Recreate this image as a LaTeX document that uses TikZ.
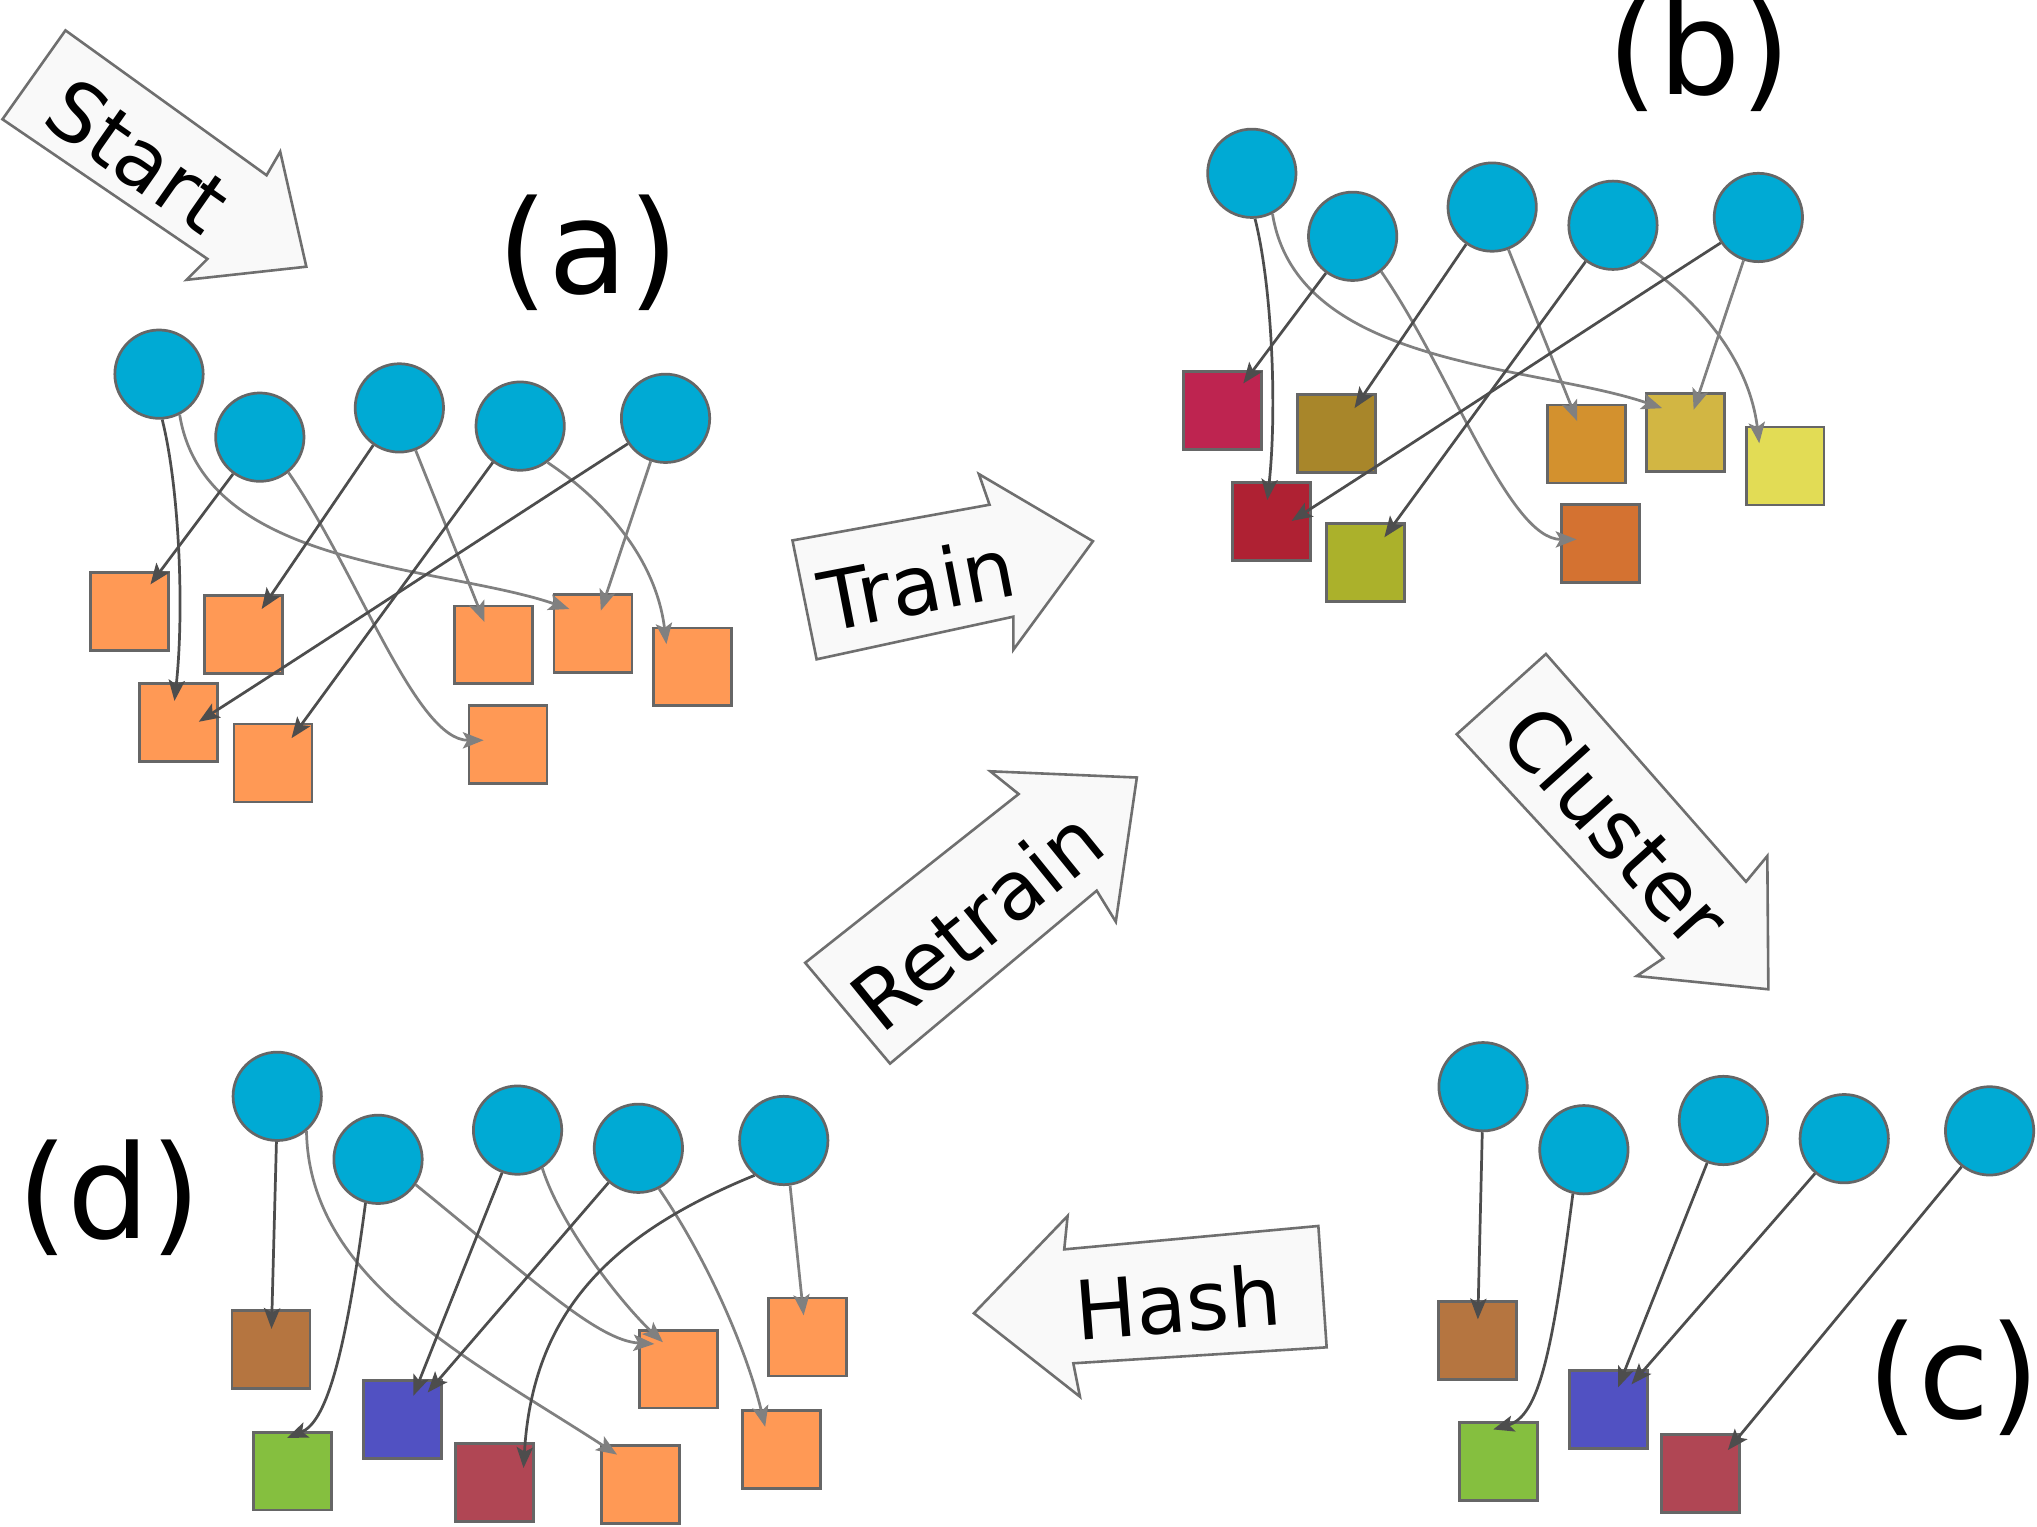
\documentclass[tikz,border=0pt]{standalone}
\usepackage{fontspec}
\setmainfont{DejaVu Sans}
\usetikzlibrary{arrows.meta,calc}
\definecolor{cir}{HTML}{00AAD4}
\definecolor{edg}{HTML}{666666}
\definecolor{org}{HTML}{FF9955}
\definecolor{dkc}{HTML}{4D4D4D}
\definecolor{ltc}{HTML}{808080}
\definecolor{bkf}{HTML}{F9F9F9}
\definecolor{bkd}{HTML}{6F6F6F}
\definecolor{bA}{HTML}{BE2450}
\definecolor{bB}{HTML}{A8862A}
\definecolor{bC}{HTML}{AF2133}
\definecolor{bD}{HTML}{ABB12B}
\definecolor{bE}{HTML}{D3912E}
\definecolor{bF}{HTML}{D2B643}
\definecolor{bG}{HTML}{E2DC55}
\definecolor{bH}{HTML}{D47231}
\definecolor{brn}{HTML}{B57540}
\definecolor{grn}{HTML}{85BF3F}
\definecolor{blu}{HTML}{5151C2}
\definecolor{mar}{HTML}{B04654}
\newcommand\panelAB[9]{%
  \node[circ] (#1c1) at (#1o) {};
  \node[circ] (#1c2) at ($(#1o)+(77.6,48.5)$) {};
  \node[circ] (#1c3) at ($(#1o)+(185,26)$) {};
  \node[circ] (#1c4) at ($(#1o)+(278,40)$) {};
  \node[circ] (#1c5) at ($(#1o)+(389.9,34)$) {};
  \node[sq,fill=#2] (#1s1) at ($(#1o)+(-22.6,182.6)$) {};
  \node[sq,fill=#3] (#1s2) at ($(#1o)+(65,200.5)$) {};
  \node[sq,fill=#4] (#1s3) at ($(#1o)+(14.9,268)$) {};
  \node[sq,fill=#5] (#1s4) at ($(#1o)+(87.7,299.4)$) {};
  \node[sq,fill=#6] (#1s5) at ($(#1o)+(257.4,208.4)$) {};
  \node[sq,fill=#7] (#1s6) at ($(#1o)+(334,199.5)$) {};
  \node[sq,fill=#8] (#1s7) at ($(#1o)+(410.5,225.3)$) {};
  \node[sq,fill=#9] (#1s8) at ($(#1o)+(268.6,285)$) {};
  \draw[dk] (#1c1.-86) .. controls ($(#1o)+(15.6,87)$) and ($(#1o)+(19.6,182)$) .. ($(#1s3)+(-3,-16.5)$);
  \draw[lt] (#1c1.-63) .. controls ($(#1o)+(35,150)$) and ($(#1o)+(217.6,147)$) .. ($(#1s6)+(-18.1,-18.7)$);
  \draw[dk] (#1c2.-126) -- ($(#1s1)+(16,-20.8)$);
  \draw[lt] (#1c2.-51) .. controls ($(#1o)+(152.6,152)$) and ($(#1o)+(197.6,282)$) .. ($(#1s8)+(-18.7,-3.2)$);
  \draw[dk] (#1c3.-125) -- ($(#1s2)+(14,-19.7)$);
  \draw[lt] (#1c3.-69) -- ($(#1s5)+(-6.9,-17.6)$);
  \draw[dk] (#1c4.-127) -- ($(#1s4)+(14.3,-19.2)$);
  \draw[lt] (#1c4.-53) .. controls ($(#1o)+(342.6,97)$) and ($(#1o)+(382.6,142)$) .. ($(#1s7)+(-19.9,-17.5)$);
  \draw[dk] (#1c5.-146) .. controls ($(#1o)+(277.6,107)$) and ($(#1o)+(117.6,212)$) .. ($(#1s3)+(15.7,-0.4)$);
  \draw[lt] (#1c5.-109) -- ($(#1s6)+(6.1,-17.5)$);
}
\begin{document}
\begin{tikzpicture}[x=1pt,y=-1pt,
  circ/.style={circle,draw=edg,fill=cir,line width=2.1pt,minimum size=68pt,inner sep=0pt},
  sq/.style={rectangle,draw=edg,line width=2.1pt,minimum size=60pt,inner sep=0pt},
  dk/.style={draw=dkc,line width=2.1pt,-{Stealth[length=16pt,width=12.5pt,inset=3.5pt]}},
  lt/.style={draw=ltc,line width=2.1pt,-{Stealth[length=16pt,width=12.5pt,inset=3.5pt]}},
  blk/.style={draw=bkd,fill=bkf,line width=2pt,line join=miter},
  arrtxt/.style={font=\fontsize{63}{63}\selectfont,inner sep=0pt},
  lbl/.style={font=\fontsize{100}{100}\selectfont,inner sep=0pt,anchor=base}]
\clip (0,0) rectangle (1568,1175);
\fill[white] (0,0) rectangle (1568,1175);
% block arrows
\draw[blk] (50.4,23.4) -- (205.2,134.9) -- (215.7,116.8) -- (235.8,205.3) -- (143.6,215.4) -- (159.7,199.3) -- (1.9,91.8) -- cycle;
\node[arrtxt,rotate=-35] (tstart) at (106.3,119.6) {Start};
\draw[blk] (610,416) -- (761.7,388.5) -- (753.5,364.9) -- (841.3,416.6) -- (780,500.2) -- (780,474.7) -- (628.6,507.5) -- cycle;
\node[arrtxt,rotate=11] (ttrain) at (706,449.1) {Train};
\draw[blk] (619.8,741.1) -- (784.1,611.2) -- (762.3,593.7) -- (875.1,598.5) -- (858.9,709.5) -- (844.2,685.6) -- (685.1,818.7) -- cycle;
\node[arrtxt,rotate=39] (tretrain) at (751.4,707.6) {Retrain};
\draw[blk] (1190,503.4) -- (1344,678.7) -- (1360.4,658.9) -- (1361.2,761.5) -- (1259.9,751.3) -- (1280.4,737.6) -- (1121.3,565.2) -- cycle;
\node[arrtxt,rotate=-48] (tcluster) at (1244.4,635.5) {Cluster};
\draw[blk] (749.7,1010.9) -- (821.8,936) -- (819.2,961.7) -- (1014.8,943.7) -- (1021.2,1037.1) -- (826.2,1049.4) -- (831.3,1075.1) -- cycle;
\node[arrtxt,rotate=4.5] (thash) at (906.5,1002) {Hash};
% labels
\node[lbl] (la) at (452.9,226.3) {(a)};
\node[lbl] (lb) at (1308.3,73.1) {(b)};
\node[lbl] (lc) at (1503.9,1092) {(c)};
\node[lbl] (ld) at (84,953) {(d)};
% panels a and b
\coordinate (ao) at (122.4,288);
\panelAB{a}{org}{org}{org}{org}{org}{org}{org}{org}
\coordinate (bo) at (963.6,133.4);
\panelAB{b}{bA}{bB}{bC}{bD}{bE}{bF}{bG}{bH}
% panel d
\coordinate (do) at (213.4,843.9);
\node[circ] (dc1) at (do) {};
\node[circ] (dc2) at ($(do)+(77.6,48.5)$) {};
\node[circ] (dc3) at ($(do)+(185,26)$) {};
\node[circ] (dc4) at ($(do)+(278,40)$) {};
\node[circ] (dc5) at ($(do)+(389.9,34)$) {};
\node[sq,fill=brn] (ds1) at ($(do)+(-4.8,195)$) {};
\node[sq,fill=grn] (ds2) at ($(do)+(12,288.5)$) {};
\node[sq,fill=blu] (ds3) at ($(do)+(96.6,248.7)$) {};
\node[sq,fill=mar] (ds4) at ($(do)+(167.5,297.5)$) {};
\node[sq,fill=org] (ds5) at ($(do)+(279.7,299)$) {};
\node[sq,fill=org] (ds6) at ($(do)+(309.1,210)$) {};
\node[sq,fill=org] (ds7) at ($(do)+(388.4,271.8)$) {};
\node[sq,fill=org] (ds8) at ($(do)+(408,185.3)$) {};
\draw[dk] (dc1.-91) -- ($(ds1)+(0.4,-16)$);
\draw[lt] (dc1.-50) .. controls ($(do)+(24.6,141.1)$) and ($(do)+(146.6,201.1)$) .. ($(ds5)+(-18.1,-23.2)$);
\draw[dk] (dc2.-106) .. controls ($(do)+(51.6,206.1)$) and ($(do)+(36.6,251.1)$) .. ($(ds2)+(-4.4,-25.6)$);
\draw[lt] (dc2.-34) .. controls ($(do)+(196.6,141.1)$) and ($(do)+(246.6,188.1)$) .. ($(ds6)+(-18.8,-19.4)$);
\draw[dk] (dc3.-110) -- ($(ds3)+(8.1,-18.1)$);
\draw[lt] (dc3.-57) .. controls ($(do)+(218.6,101.1)$) and ($(do)+(266.6,161.1)$) .. ($(ds6)+(-12.2,-20.7)$);
\draw[dk] (dc4.-131) -- ($(ds3)+(19.2,-20.7)$);
\draw[lt] (dc4.-63) .. controls ($(do)+(331.6,126.1)$) and ($(do)+(361.6,196.1)$) .. ($(ds7)+(-12.8,-17.4)$);
\draw[dk] (dc5.-130) .. controls ($(do)+(256.6,106.1)$) and ($(do)+(196.6,166.1)$) .. ($(ds4)+(22.1,-11.4)$);
\draw[lt] (dc5.-82) -- ($(ds8)+(-2.8,-16.7)$);
% panel c
\coordinate (co) at (1141.6,836.5);
\node[circ] (cc1) at (co) {};
\node[circ] (cc2) at ($(co)+(77.6,48.5)$) {};
\node[circ] (cc3) at ($(co)+(185,26)$) {};
\node[circ] (cc4) at ($(co)+(278,40)$) {};
\node[circ] (cc5) at ($(co)+(389.9,34)$) {};
\node[sq,fill=brn] (cs1) at ($(co)+(-4.5,195.1)$) {};
\node[sq,fill=grn] (cs2) at ($(co)+(12,288.5)$) {};
\node[sq,fill=blu] (cs3) at ($(co)+(96.6,248.7)$) {};
\node[sq,fill=mar] (cs4) at ($(co)+(167.5,297.5)$) {};
\draw[dk] (cc1.-91) -- ($(cs1)+(0.5,-16)$);
\draw[dk] (cc2.-104) .. controls ($(co)+(53.4,203.5)$) and ($(co)+(43.4,253.5)$) .. ($(cs2)+(-4.2,-24.7)$);
\draw[dk] (cc3.-111) -- ($(cs3)+(7.3,-17.2)$);
\draw[dk] (cc4.-130) -- ($(cs3)+(17.6,-19.6)$);
\draw[dk] (cc5.-128) -- ($(cs4)+(20.9,-17.8)$);
\end{tikzpicture}
\end{document}
